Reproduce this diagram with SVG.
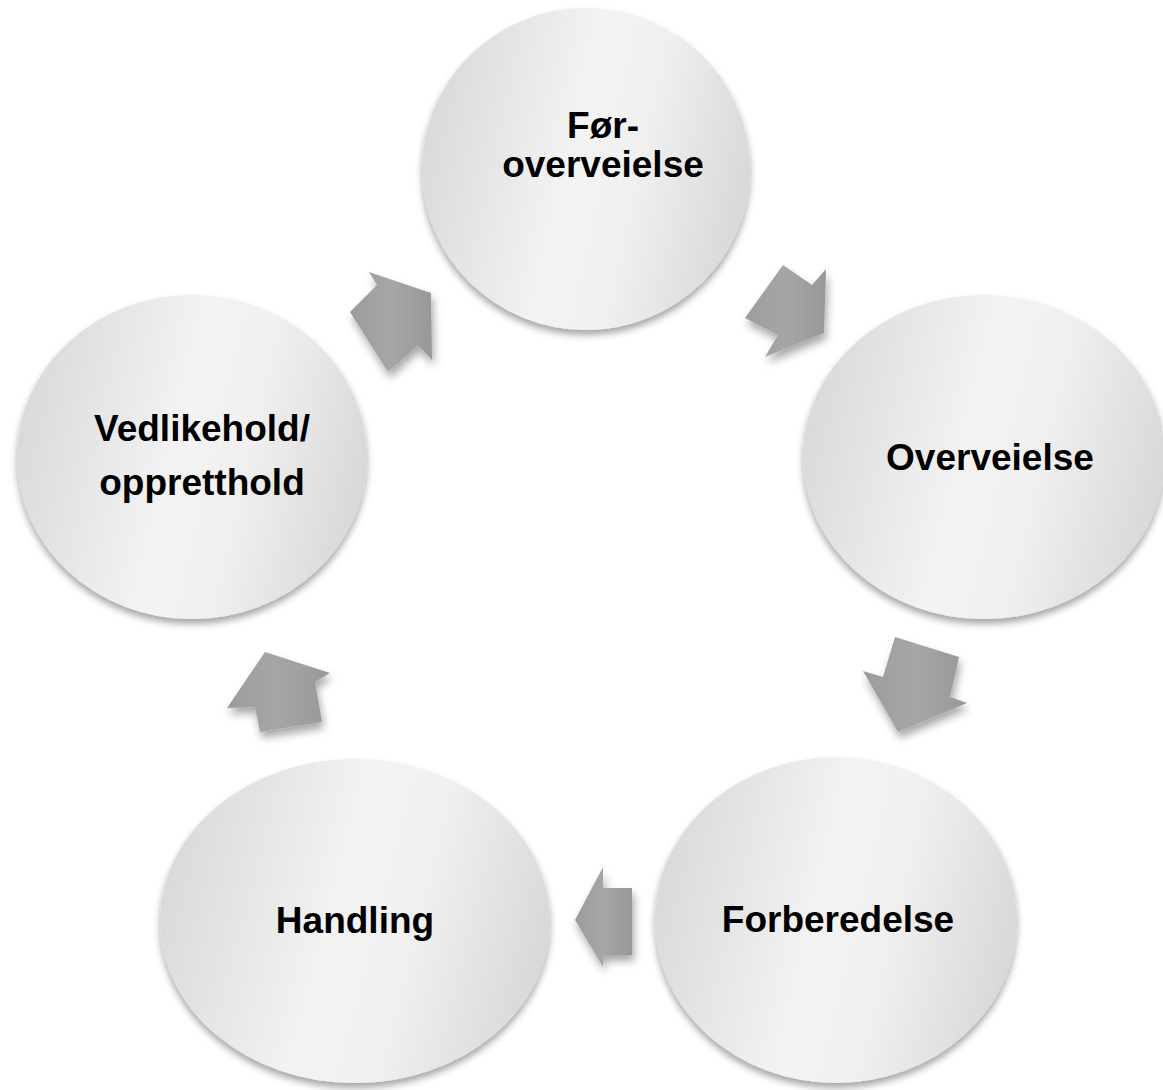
<svg xmlns="http://www.w3.org/2000/svg" width="1163" height="1090" viewBox="0 0 1163 1090">
<defs>
<linearGradient id="cg" x1="0" y1="0" x2="1" y2="0" gradientTransform="rotate(12 0.5 0.5)">
<stop offset="0" stop-color="#dadada"/>
<stop offset="0.45" stop-color="#f3f3f3"/>
<stop offset="0.65" stop-color="#f0f0f0"/>
<stop offset="1" stop-color="#d8d8d8"/>
</linearGradient>
<linearGradient id="ag" x1="0" y1="0" x2="1" y2="0">
<stop offset="0" stop-color="#9c9c9c"/>
<stop offset="0.5" stop-color="#a6a6a6"/>
<stop offset="1" stop-color="#989898"/>
</linearGradient>
<filter id="cs" x="-10%" y="-10%" width="120%" height="125%">
<feDropShadow dx="0" dy="5" stdDeviation="3.5" flood-color="#000" flood-opacity="0.35"/>
</filter>
<filter id="as" x="-30%" y="-30%" width="160%" height="160%">
<feDropShadow dx="2" dy="6" stdDeviation="4" flood-color="#000" flood-opacity="0.35"/>
</filter>
</defs>
<style>
.c{fill:url(#cg);filter:url(#cs)}
.a{fill:url(#ag);filter:url(#as)}
.t{font-family:"Liberation Sans",Arial,sans-serif;font-weight:bold;font-size:37px;fill:#000;text-anchor:middle}
</style>
<rect width="1163" height="1090" fill="#fff"/>
<g id="connectors">
<polygon class="a" points="783,265 812,285 826,269 824,333 765,357 778,335 745,318"/>
<polygon class="a" points="895,637 959,657 950,697 967,703 898,732 863,671 883,677"/>
<polygon class="a" points="632,888 632,955 603,955 603,967 575,920 603,867 603,888"/>
<polygon class="a" points="227,708 265,652 330,673 315,682 322,722 260,732 255,707"/>
<polygon class="a" points="369,272 431,293 432,360 418,345 388,372 350,312 377,285"/>
</g>
<g id="node-forovervejelse">
<ellipse class="c" cx="586" cy="169" rx="164" ry="161"/>
<text class="t" x="603" y="138">Før-</text>
<text class="t" x="603" y="177">overveielse</text>
</g>
<g id="node-overveielse">
<ellipse class="c" cx="984" cy="457" rx="181" ry="162"/>
<text class="t" x="990" y="470">Overveielse</text>
</g>
<g id="node-forberedelse">
<ellipse class="c" cx="836" cy="920" rx="181" ry="163"/>
<text class="t" x="838" y="932">Forberedelse</text>
</g>
<g id="node-handling">
<ellipse class="c" cx="355" cy="921" rx="195" ry="162"/>
<text class="t" x="355" y="933">Handling</text>
</g>
<g id="node-vedlikehold">
<ellipse class="c" cx="192" cy="457" rx="175" ry="162"/>
<text class="t" x="202" y="441">Vedlikehold/</text>
<text class="t" x="202" y="495">oppretthold</text>
</g>
</svg>
